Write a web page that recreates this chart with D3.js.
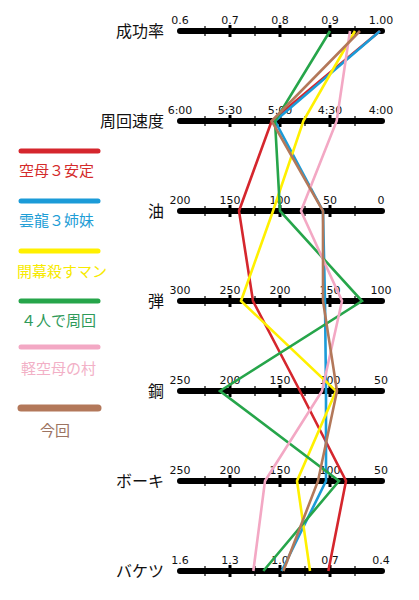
<!DOCTYPE html>
<html>
<head>
<meta charset="utf-8">
<script src="https://cdn.jsdelivr.net/npm/d3@7"></script>
<style>
  html, body { margin: 0; padding: 0; background: #fff; }
  svg { display: block; }
  .row-label { font-family: "Noto Sans CJK JP", sans-serif; font-size: 16px; fill: #111; }
  .tick-label { font-family: "DejaVu Sans", sans-serif; font-size: 11px; fill: #111; }
  .legend-text { font-family: "Noto Sans CJK JP", sans-serif; font-size: 15px; }
</style>
</head>
<body>
<svg id="chart" width="419" height="600"></svg>
<script>
// parallel axes, one per row
const axisNames = ['成功率', '周回速度', '油', '弾', '鋼', 'ボーキ', 'バケツ'];
//周回速度 is kept in seconds (6:00 = 360)
const axisDomains = [[0.6, 1.0], [360, 240], [200, 0], [300, 100], [250, 50], [250, 50], [1.6, 0.4]];
const tickValues = [
  [0.6, 0.7, 0.8, 0.9, 1.0],
  [360, 330, 300, 270, 240],
  [200, 150, 100, 50, 0],
  [300, 250, 200, 150, 100],
  [250, 200, 150, 100, 50],
  [250, 200, 150, 100, 50],
  [1.6, 1.3, 1.0, 0.7, 0.4]
];
const tickLabels = [
  ['0.6', '0.7', '0.8', '0.9', '1.00'],
  ['6:00', '5:30', '5:00', '4:30', '4:00'],
  ['200', '150', '100', '50', '0'],
  ['300', '250', '200', '150', '100'],
  ['250', '200', '150', '100', '50'],
  ['250', '200', '150', '100', '50'],
  ['1.6', '1.3', '1.0', '0.7', '0.4']
];

const seriesNames = ['空母３安定', '雲龍３姉妹', '開幕殺すマン', '４人で周回', '軽空母の村', '今回'];
const seriesColors = ['#d5262d', '#1b9bd8', '#fff000', '#26a54a', '#f3a8c4', '#b3785a'];
const legendTextColors = ['#d42a2a', '#1f9ed6', '#f7ea00', '#2f9a5a', '#f2b0c6', '#9c7462'];
// values in axis order
const redVals    = [1.00, 305, 141, 227, 130, 84, 0.71];
const blueVals   = [1.00, 303, 57, 155, 104, 104, 0.99];
const yellowVals = [0.95, 286, 107, 239, 94, 133, 0.82];
const greenVals  = [0.90, 303, 100, 118, 210, 91, 1.10];
const pinkVals   = [0.94, 266, 79, 138, 108, 165, 1.16];
const brownVals  = [0.96, 305, 57, 157, 93, 112, 0.98];
const seriesValues = [redVals, blueVals, yellowVals, greenVals, pinkVals, brownVals];

const svg = d3.select('#chart');
const X0 = 180, X1 = 380;

const y = d3.scalePoint().domain(axisNames).range([31, 571]);
const xScales = axisDomains.map(dom => d3.scaleLinear().domain(dom).range([X0, X1]));

// axes
const axes = svg.append('g').attr('class', 'axes');
axisNames.forEach((name, i) => {
  const g = axes.append('g').attr('transform', `translate(0,${y(name)})`);
  const sx = xScales[i];
  const tv = tickValues[i];

  g.append('line')
    .attr('x1', X0).attr('x2', X1 + 2)
    .attr('stroke', '#000').attr('stroke-width', 6).attr('stroke-linecap', 'round');

  // minor ticks halfway between labelled ticks
  d3.pairs(tv).forEach(([a, b]) => {
    const mx = sx((a + b) / 2);
    g.append('line').attr('x1', mx).attr('x2', mx).attr('y1', -5).attr('y2', 5)
      .attr('stroke', '#000').attr('stroke-width', 1.2);
  });
  // labelled inner ticks
  tv.slice(1, -1).forEach(v => {
    g.append('rect').attr('x', sx(v) - 1.5).attr('y', -6).attr('width', 3).attr('height', 12).attr('fill', '#000');
  });

  g.selectAll('text.tick-label').data(tv).enter().append('text')
    .attr('class', 'tick-label')
    .attr('x', (d, j) => sx(d) + (j === tv.length - 1 ? 1 : 0))
    .attr('y', -7)
    .attr('text-anchor', 'middle')
    .text((d, j) => tickLabels[i][j]);

  g.append('text').attr('class', 'row-label')
    .attr('x', 164).attr('y', 0).attr('dy', '0.36em')
    .attr('text-anchor', 'end')
    .text(name);
});

// series polylines
const line = d3.line().x(d => d[0]).y(d => d[1]);
const lines = svg.append('g').attr('class', 'series');
seriesValues.forEach((vals, s) => {
  const pts = vals.map((v, i) => [xScales[i](v), y(axisNames[i])]);
  lines.append('path')
    .attr('d', line(pts))
    .attr('fill', 'none')
    .attr('stroke', seriesColors[s])
    .attr('stroke-width', 2.6)
    .attr('stroke-linejoin', 'miter');
});

// legend
const legendLineY = [151, 201, 251, 301, 347, 408];
const legendTextY = [176, 226, 277, 326, 374, 436];
const legendTextX = [19, 19, 17, 21, 21, 40];
const legend = svg.append('g').attr('class', 'legend');
seriesNames.forEach((name, s) => {
  legend.append('line')
    .attr('x1', 21).attr('x2', 98)
    .attr('y1', legendLineY[s]).attr('y2', legendLineY[s])
    .attr('stroke', seriesColors[s])
    .attr('stroke-width', s === 5 ? 7 : 5)
    .attr('stroke-linecap', 'round');
  legend.append('text').attr('class', 'legend-text')
    .attr('x', legendTextX[s]).attr('y', legendTextY[s])
    .attr('fill', legendTextColors[s])
    .text(name);
});
</script>
</body>
</html>
